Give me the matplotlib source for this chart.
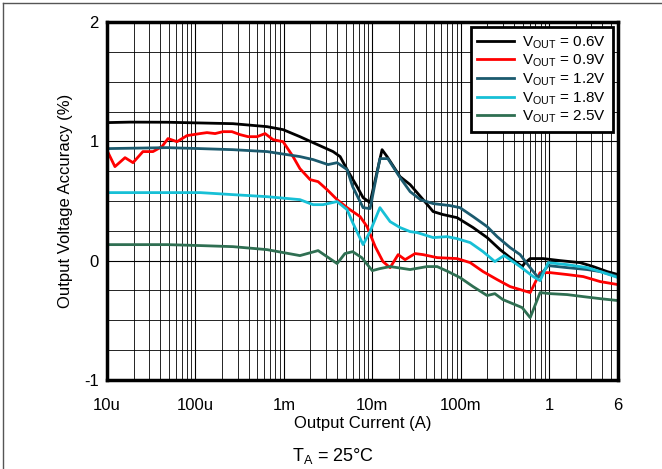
import numpy as np
import matplotlib
matplotlib.use("Agg")
import matplotlib.pyplot as plt
from matplotlib.ticker import FixedLocator, LogLocator, MultipleLocator, NullFormatter
from matplotlib.lines import Line2D

plt.rcParams['font.family'] = ['Liberation Sans', 'DejaVu Sans']
plt.rcParams['mathtext.fontset'] = 'custom'
plt.rcParams['mathtext.rm'] = 'Liberation Sans'
plt.rcParams['axes.unicode_minus'] = False

# (current in A, accuracy in %)
i_06 = [1e-5, 1.82e-5, 4.77e-5, 2.66e-4, 6.45e-4, 9.8e-4, 1.52e-3, 2.14e-3, 3.6e-3, 4.33e-3,
        5.19e-3, 6.73e-3, 7.87e-3, 9.44e-3, 1.29e-2, 1.47e-2, 2.06e-2, 2.68e-2, 3.76e-2, 4.88e-2,
        6.3e-2, 9.1e-2, 0.138, 0.199, 0.279, 0.362, 0.495, 0.536, 0.61, 0.855, 1.33, 2.24, 3.15, 4.53, 6]
v_06 = [1.157, 1.161, 1.160, 1.148, 1.123, 1.098, 1.039, 0.989, 0.914, 0.872,
        0.763, 0.620, 0.528, 0.486, 0.930, 0.872, 0.704, 0.637, 0.511, 0.411,
        0.386, 0.360, 0.277, 0.193, 0.092, 0.025, -0.050, -0.017, 0.017, 0.017, 0.0, -0.017, -0.05, -0.092, -0.117]

i_09 = [1.03e-5, 1.23e-5, 1.6e-5, 1.97e-5, 2.55e-5, 3.31e-5, 4.19e-5, 4.9e-5, 6.19e-5, 8.03e-5,
        1.13e-4, 1.35e-4, 1.67e-4, 2.05e-4, 2.59e-4, 3.2e-4, 3.94e-4, 4.98e-4, 6.13e-4, 7.55e-4,
        9.8e-4, 1.27e-3, 1.52e-3, 1.98e-3, 2.44e-3, 3.08e-3, 4.0e-3, 5.19e-3, 7.28e-3, 8.73e-3,
        1.08e-2, 1.32e-2, 1.59e-2, 1.96e-2, 2.35e-2, 3.05e-2, 3.76e-2, 5.41e-2, 9.1e-2, 0.128,
        0.179, 0.258, 0.362, 0.61, 0.79, 1.03, 1.6, 2.43, 3.78, 6]
v_09 = [0.905, 0.788, 0.863, 0.821, 0.914, 0.914, 0.956, 1.023, 0.997, 1.048,
        1.065, 1.073, 1.065, 1.081, 1.081, 1.056, 1.039, 1.039, 1.065, 1.014,
        0.997, 0.872, 0.771, 0.679, 0.662, 0.595, 0.511, 0.444, 0.369, 0.285,
        0.117, -0.008, -0.059, 0.050, 0.008, 0.059, 0.050, 0.025, 0.017, -0.017,
        -0.092, -0.159, -0.218, -0.268, -0.101, -0.101, -0.117, -0.134, -0.176, -0.201]

i_12 = [1e-5, 4.77e-5, 1.13e-4, 2.66e-4, 6.45e-4, 1.52e-3, 2.14e-3, 3.16e-3, 4.0e-3, 5.19e-3,
        6.0e-3, 7.87e-3, 9.44e-3, 1.22e-2, 1.5e-2, 2.06e-2, 2.68e-2, 3.5e-2, 4.88e-2, 7.6e-2,
        9.8e-2, 0.138, 0.199, 0.258, 0.362, 0.47, 0.61, 0.75, 0.975, 1.6, 2.7, 3.78, 6]
v_12 = [0.939, 0.947, 0.939, 0.930, 0.914, 0.872, 0.847, 0.805, 0.821, 0.763,
        0.620, 0.444, 0.436, 0.855, 0.855, 0.696, 0.578, 0.511, 0.478, 0.461,
        0.444, 0.369, 0.285, 0.201, 0.109, 0.050, -0.059, -0.142, -0.042, -0.059, -0.075, -0.092, -0.134]

i_18 = [1e-5, 4.77e-5, 1.13e-4, 2.66e-4, 6.45e-4, 1.52e-3, 2.14e-3, 2.78e-3, 4.0e-3, 5.19e-3,
        6.0e-3, 7.87e-3, 9.44e-3, 1.22e-2, 1.59e-2, 2.06e-2, 2.68e-2, 3.22e-2, 4.88e-2, 7.0e-2,
        9.1e-2, 0.128, 0.179, 0.243, 0.31, 0.47, 0.66, 0.79, 0.975, 1.6, 2.7, 3.78, 6]
v_18 = [0.570, 0.570, 0.570, 0.553, 0.536, 0.511, 0.469, 0.469, 0.495, 0.427,
        0.319, 0.134, 0.243, 0.444, 0.327, 0.277, 0.243, 0.235, 0.193, 0.201,
        0.184, 0.151, 0.075, -0.008, 0.042, -0.050, -0.134, -0.168, -0.017, -0.034, -0.059, -0.092, -0.142]

i_25 = [1e-5, 4.77e-5, 1.13e-4, 2.66e-4, 6.45e-4, 1.52e-3, 2.44e-3, 4.0e-3, 4.9e-3, 6.0e-3,
        7.6e-3, 1.0e-2, 1.22e-2, 1.59e-2, 2.68e-2, 4.17e-2, 5.41e-2, 7.2e-2, 9.8e-2, 0.138,
        0.199, 0.243, 0.30, 0.362, 0.495, 0.61, 0.79, 1.03, 1.6, 2.43, 3.78, 6]
v_25 = [0.134, 0.134, 0.126, 0.117, 0.092, 0.042, 0.084, -0.025, 0.059, 0.075,
        0.025, -0.084, -0.067, -0.050, -0.075, -0.050, -0.050, -0.092, -0.142, -0.218,
        -0.293, -0.277, -0.327, -0.352, -0.394, -0.478, -0.268, -0.277, -0.285, -0.302, -0.319, -0.335]

x_ticks = [1e-5, 1e-4, 1e-3, 1e-2, 1e-1, 1, 6]
x_labels = ['10u', '100u', '1m', '10m', '100m', '1', '6']
y_ticks = [-1, 0, 1, 2]

fig = plt.figure(figsize=(6.62, 4.69), dpi=100)
ax = fig.add_axes([0.1616, 0.190, 0.7719, 0.763])

lw = 2.0
ax.plot(i_06, v_06, color='black', lw=lw, label=r'V$_{\mathrm{OUT}}$ = 0.6V')
ax.plot(i_09, v_09, color='#ff0000', lw=lw, label=r'V$_{\mathrm{OUT}}$ = 0.9V')
ax.plot(i_12, v_12, color='#1b5a6e', lw=lw, label=r'V$_{\mathrm{OUT}}$ = 1.2V')
ax.plot(i_18, v_18, color='#17c0d6', lw=lw, label=r'V$_{\mathrm{OUT}}$ = 1.8V')
ax.plot(i_25, v_25, color='#2f6f52', lw=lw, label=r'V$_{\mathrm{OUT}}$ = 2.5V')

ax.set_xscale('log')
ax.set_xlim(1e-5, 6)
ax.set_ylim(-1, 2)

ax.xaxis.set_major_locator(FixedLocator(x_ticks))
ax.set_xticklabels(x_labels)
ax.xaxis.set_minor_locator(LogLocator(base=10, subs=np.arange(2, 10), numticks=20))
ax.xaxis.set_minor_formatter(NullFormatter())
ax.yaxis.set_major_locator(FixedLocator(y_ticks))
ax.yaxis.set_minor_locator(MultipleLocator(0.25))

ax.grid(which='major', color='black', lw=0.8)
ax.grid(which='minor', color='black', lw=0.6)
ax.tick_params(which='both', length=0, labelsize=12)
ax.tick_params(axis='y', pad=6)
ax.tick_params(axis='x', pad=13)
for s in ax.spines.values():
    s.set_linewidth(2.5)

ax.set_xlabel('Output Current (A)', fontsize=12, labelpad=2)
ax.set_ylabel('Output Voltage Accuracy (%)', fontsize=12, labelpad=8)

leg = ax.legend(loc='upper right', fontsize=11, handlelength=2.4, labelspacing=0.12,
                borderpad=0.45, handletextpad=0.5, fancybox=False, framealpha=1,
                borderaxespad=0.35)
leg.get_frame().set_edgecolor('black')
leg.get_frame().set_linewidth(2)

fig.text(0.503, 0.027, r'T$_{\mathrm{A}}$ = 25°C', ha='center', va='center', fontsize=13)

# frame round the figure (left and top edges)
fig.add_artist(Line2D([0.005, 0.005], [0, 0.994], transform=fig.transFigure, color='#555555', lw=1))
fig.add_artist(Line2D([0.005, 1], [0.994, 0.994], transform=fig.transFigure, color='#555555', lw=1))

fig.savefig('out.png', dpi=100)
